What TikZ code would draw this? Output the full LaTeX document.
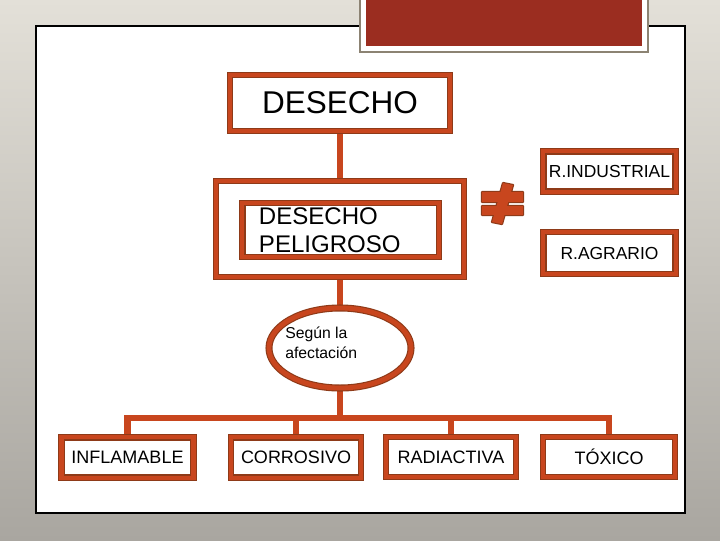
\documentclass[tikz,border=0pt]{standalone}
\usepackage{fontspec}
\setmainfont{Liberation Sans}
\usetikzlibrary{shapes.geometric,backgrounds}
\definecolor{naranja}{HTML}{C8461E}
\definecolor{borde}{HTML}{8E3A18}
\definecolor{granate}{HTML}{9B2D20}
\definecolor{marco}{HTML}{8C8373}
\definecolor{fondoA}{HTML}{E3E0D8}
\definecolor{fondoB}{HTML}{A9A6A0}
\tikzset{
  caja/.style={draw=borde, double=naranja, double distance=3pt, line width=0.8pt,
    fill=white, inner sep=0pt},
  hoja/.style={caja, minimum width=3.3cm, minimum height=1.01cm,
    font=\fontsize{12.8}{15}\selectfont},
  conector/.style={naranja, line width=4.6pt},
}
\begin{document}
\begin{tikzpicture}[x=0.025cm, y=-0.025cm]
    \useasboundingbox (0,0) rectangle (720,540);
    % cajas principales
    \node[caja, minimum width=5.49cm, minimum height=1.39cm,
      font=\fontsize{22.4}{26}\selectfont] (desecho) at (340,103) {DESECHO};
    \node[caja, minimum width=6.19cm, minimum height=2.39cm] (peligro) at (340,229) {};
    \node[caja, minimum width=4.91cm, minimum height=1.34cm, text width=4.075cm,
      align=left, font=\fontsize{17.1}{20}\selectfont] (pelint) at (340.5,230) {DESECHO\\PELIGROSO};
    \node[caja, minimum width=3.31cm, minimum height=1.01cm,
      font=\fontsize{12.4}{15}\selectfont] (rind) at (609.5,171.5) {R.INDUSTRIAL};
    \node[caja, minimum width=3.31cm, minimum height=1.04cm,
      font=\fontsize{12.4}{15}\selectfont] (ragr) at (609.5,253) {R.AGRARIO};
    \node[ellipse, draw=borde, double=naranja, double distance=3.4pt, line width=0.8pt,
      fill=white, minimum width=3.55cm, minimum height=2cm] (afecta) at (340,348) {};
    \node[anchor=west, align=left, inner sep=0pt,
      font=\fontsize{11.2}{14}\selectfont] (criterio) at (285,343) {Según la\\afectación};
    % tipos
    \node[hoja] (inflam) at (127.5,457.5) {INFLAMABLE};
    \node[hoja, minimum width=3.24cm] (corros) at (296,457.5) {CORROSIVO};
    \node[hoja, minimum width=3.24cm] (radiac) at (451,457) {RADIACTIVA};
    \node[hoja] (toxico) at (609,457) {TÓXICO};
    \coordinate (rama) at (340,418);
    % signo distinto
    \draw[borde, line width=1.6pt, line join=round]
      (482,192) rectangle (523,202) (482,206) rectangle (523,215)
      (503,183) -- (513,185) -- (502,224) -- (492,222) -- cycle;
    \fill[naranja] (482,192) rectangle (523,202);
    \fill[naranja] (482,206) rectangle (523,215);
    \fill[naranja] (503,183) -- (513,185) -- (502,224) -- (492,222) -- cycle;
    \begin{pgfonlayer}{background}
      \shade[top color=fondoA, middle color=fondoA!95!fondoB, bottom color=fondoB]
        (0,0) rectangle (720,540);
      \fill[white, draw=black, line width=0.8pt] (36,26) rectangle (685,513);
      \fill[white, draw=marco, line width=1.5pt] (360,-5) rectangle (648,52);
      \fill[granate] (366,-5) rectangle (642,46);
      \draw[conector] (desecho) -- (peligro);
      \draw[conector] (peligro) -- (afecta);
      \draw[conector] (afecta) -- (rama);
      \draw[conector] (inflam) |- (rama) -| (toxico);
      \draw[conector] (corros) -- (corros |- rama);
      \draw[conector] (radiac) -- (radiac |- rama);
    \end{pgfonlayer}
\end{tikzpicture}
\end{document}
